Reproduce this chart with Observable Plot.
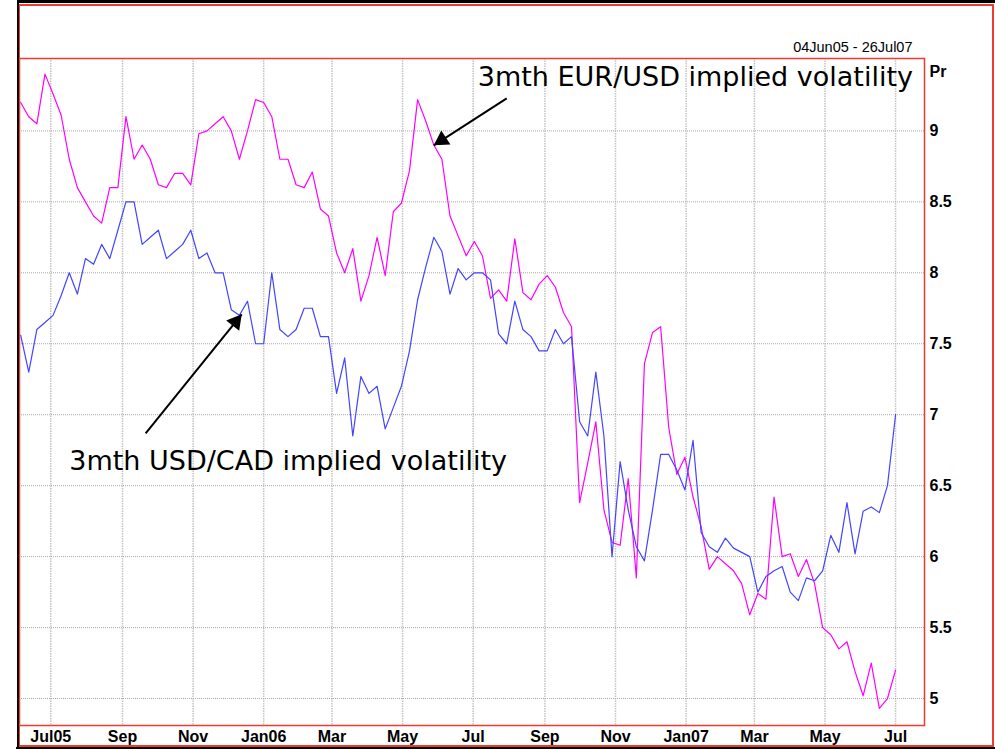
<!DOCTYPE html>
<html><head><meta charset="utf-8">
<script src="https://cdn.jsdelivr.net/npm/d3@7"></script>
<script src="https://cdn.jsdelivr.net/npm/@observablehq/plot@0.6"></script>
<style>
html,body{margin:0;padding:0;background:#fff;}
#wrap{position:relative;width:995px;height:749px;overflow:hidden;background:#fff;}
#wrap svg{position:absolute;left:0;top:0;}
.ln{position:absolute;}
</style></head><body><div id="wrap"></div>
<script>
// ---- data ----
const startDate = "2005-06-05"; // first weekly observation
const eurusd = [9.20,9.10,9.05,9.40,9.26,9.11,8.80,8.60,8.50,8.40,8.35,8.60,8.60,9.10,8.80,8.90,8.80,8.62,8.60,8.70,
  8.70,8.62,8.98,9.00,9.05,9.10,9.00,8.80,9.00,9.22,9.20,9.10,8.80,8.80,8.62,8.60,8.71,8.45,8.40,8.14,
  8.00,8.17,7.80,7.98,8.25,7.98,8.43,8.49,8.72,9.22,9.07,8.90,8.80,8.40,8.26,8.12,8.22,8.12,7.82,7.88,
  7.80,8.24,7.86,7.81,7.92,7.98,7.90,7.72,7.62,6.38,6.66,6.95,6.33,6.10,6.08,6.55,5.85,7.36,7.58,7.62,
  6.91,6.58,6.70,6.42,6.21,5.91,6.00,5.95,5.90,5.81,5.59,5.74,5.70,6.42,6.00,6.02,5.86,5.98,5.81,5.50,
  5.45,5.35,5.40,5.19,5.02,5.25,4.93,5.00,5.20];
const usdcad = [7.56,7.30,7.60,7.65,7.70,7.84,8.00,7.85,8.10,8.06,8.20,8.10,8.30,8.50,8.50,8.20,8.25,8.30,8.10,8.15,
  8.20,8.30,8.10,8.14,8.00,8.00,7.74,7.70,7.80,7.50,7.50,8.00,7.60,7.55,7.60,7.75,7.75,7.55,7.55,7.15,
  7.40,6.85,7.27,7.15,7.20,6.90,7.05,7.20,7.45,7.81,8.04,8.25,8.15,7.85,8.03,7.95,8.00,8.00,7.95,7.57,
  7.50,7.80,7.60,7.55,7.45,7.45,7.60,7.50,7.55,6.95,6.85,7.30,6.85,6.00,6.67,6.33,6.07,5.97,6.33,6.72,
  6.72,6.61,6.47,6.82,6.17,6.07,6.03,6.13,6.06,6.03,6.00,5.75,5.86,5.90,5.93,5.75,5.69,5.85,5.83,5.90,
  6.15,6.03,6.38,6.02,6.32,6.35,6.31,6.50,7.00];
const tickDates = ["2005-07-01","2005-09-01","2005-11-01","2006-01-01","2006-03-01","2006-05-01","2006-07-01",
  "2006-09-01","2006-11-01","2007-01-01","2007-03-01","2007-05-01","2007-07-01"];
const tickLabels = ["Jul05","Sep","Nov","Jan06","Mar","May","Jul","Sep","Nov","Jan07","Mar","May","Jul"];
const yTicks = [5,5.5,6,6.5,7,7.5,8,8.5,9];
const xDomain = ["2005-06-04","2007-07-26"];
const yDomain = [4.81, 9.51];
const dateRange = "04Jun05 - 26Jul07";
const axisUnit = "Pr";
const seriesNames = ["3mth EUR/USD implied volatility", "3mth USD/CAD implied volatility"];
const labelAt = [{date:"2006-07-05", value:9.314}, {date:"2005-07-17", value:6.607}];
const arrowFrom = [{date:"2006-07-30", value:9.229}, {date:"2005-09-21", value:6.868}];
const arrowTo = [{date:"2006-05-28", value:8.898}, {date:"2005-12-13", value:7.707}];

// ---- build ----
const P = s => new Date(s + "T00:00:00Z");
const t0 = P(startDate);
const dates = eurusd.map((_, i) => d3.utcDay.offset(t0, 7 * i));
const eurRows = eurusd.map((v, i) => ({date: dates[i], value: v}));
const usdRows = usdcad.map((v, i) => ({date: dates[i], value: v}));
const ticks = tickDates.map(P);
const labels = seriesNames.map((t, i) => ({text: t, date: P(labelAt[i].date), value: labelAt[i].value}));
const arrows = arrowFrom.map((a, i) => ({x1: P(a.date), y1: a.value, x2: P(arrowTo[i].date), y2: arrowTo[i].value}));

const RED = "#ee3b2f";
const plot = Plot.plot({
  width: 995, height: 749,
  marginLeft: 19, marginRight: 71, marginTop: 58, marginBottom: 24,
  style: {fontFamily: "'Liberation Sans', Arial, sans-serif", fontSize: "16px", fontWeight: "bold", color: "black", background: "white"},
  x: {type: "utc", domain: xDomain.map(P), ticks: ticks, tickSize: 0, tickPadding: 5, label: null,
      tickFormat: d => tickLabels[ticks.findIndex(t => +t === +d)]},
  y: {domain: yDomain, ticks: yTicks, tickSize: 0, tickPadding: 5, label: null, axis: "right",
      tickFormat: d => String(d)},
  marks: [
    Plot.ruleX(ticks, {stroke: "#c4c4c4", strokeWidth: 1.5, strokeDasharray: "1.5,1"}),
    Plot.ruleY(yTicks, {stroke: "#aaaaaa", strokeWidth: 1, strokeDasharray: "1,1"}),
    Plot.line(eurRows, {x: "date", y: "value", stroke: "#ff00ff", strokeWidth: 1.2}),
    Plot.line(usdRows, {x: "date", y: "value", stroke: "#4444ff", strokeWidth: 1.2}),
    Plot.frame({stroke: RED, strokeWidth: 1.5}),
    Plot.link(arrows, {x1: "x1", y1: "y1", x2: "x2", y2: "y2", stroke: "black", strokeWidth: 2}),
    Plot.dot([arrows[0]], {x: "x2", y: "y2", symbol: "triangle", r: 6.2, fill: "black", stroke: "none", rotate: 236.8, dx: 8.0, dy: -5.3}),
    Plot.dot([arrows[1]], {x: "x2", y: "y2", symbol: "triangle", r: 6.2, fill: "black", stroke: "none", rotate: 38.7, dx: -6.0, dy: 7.5}),
    Plot.text(labels, {x: "date", y: "value", text: "text", textAnchor: "start", lineAnchor: "bottom",
      fontFamily: "'DejaVu Sans', Verdana, sans-serif", fontSize: 27, fontWeight: "normal", fill: "black"}),
    Plot.text([dateRange], {text: d => d, frameAnchor: "top-right", textAnchor: "end", lineAnchor: "bottom",
      dx: -12, dy: -7, fontSize: 14.5, fontWeight: "normal", fill: "black"}),
    Plot.text([axisUnit], {text: d => d, frameAnchor: "top-right", textAnchor: "start", lineAnchor: "bottom",
      dx: 5, dy: 18.5, fontSize: 16, fontWeight: "bold", fill: "black"})
  ]
});
const wrap = document.getElementById("wrap");
wrap.appendChild(plot);
// outer border decoration
const lines = [
  {l: 17, t: 0, w: 978, h: 3, c: "black"},
  {l: 19, t: 4, w: 974, h: 1.5, c: RED},
  {l: 992, t: 4, w: 1.5, h: 742, c: RED},
  {l: 17, t: 745, w: 976.5, h: 1.5, c: RED},
  {l: 16, t: 746.5, w: 979, h: 2.5, c: "black"},
  {l: 16.5, t: 0, w: 2.5, h: 749, c: "black"},
  {l: 19, t: 4, w: 1.2, h: 742, c: RED}
];
for (const s of lines) {
  const d = document.createElement("div");
  d.className = "ln";
  Object.assign(d.style, {left: s.l + "px", top: s.t + "px", width: s.w + "px", height: s.h + "px", background: s.c});
  wrap.appendChild(d);
}
</script></body></html>
